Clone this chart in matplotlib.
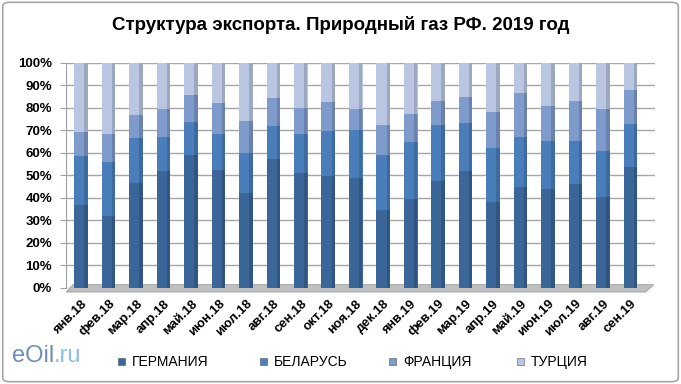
import matplotlib.pyplot as plt
from matplotlib.patches import FancyBboxPatch, Polygon
import matplotlib.transforms as mtransforms
import numpy as np

# Структура экспорта природного газа, доли по странам (накопленные верхушки)
months = ['янв.18', 'фев.18', 'мар.18', 'апр.18', 'май.18', 'июн.18', 'июл.18',
          'авг.18', 'сен.18', 'окт.18', 'ноя.18', 'дек.18', 'янв.19', 'фев.19',
          'мар.19', 'апр.19', 'май.19', 'июн.19', 'июл.19', 'авг.19', 'сен.19']
germany = [36.8, 32.1, 46.7, 51.8, 59.1, 52.5, 42.0, 57.3, 50.9, 49.9, 49.1,
           34.5, 39.6, 47.6, 52.1, 38.2, 44.9, 44.2, 46.1, 40.5, 53.6]
belarus_top = [58.8, 56.1, 66.5, 67.1, 73.7, 68.5, 60.1, 72.2, 68.5, 69.9, 70.2,
               59.2, 65.0, 72.5, 73.2, 62.2, 67.0, 65.5, 65.5, 61.0, 72.9]
france_top = [69.2, 68.5, 76.9, 79.6, 85.6, 82.3, 74.4, 84.4, 80.1, 82.6, 79.5,
              72.5, 77.4, 83.3, 84.8, 78.1, 86.6, 81.1, 83.3, 79.6, 87.8]

germany = np.array(germany)
belarus = np.array(belarus_top) - germany
france = np.array(france_top) - np.array(belarus_top)
turkey = 100 - np.array(france_top)

names = ['ГЕРМАНИЯ', 'БЕЛАРУСЬ', 'ФРАНЦИЯ', 'ТУРЦИЯ']
colors = ['#3b6699', '#4a7ebb', '#7e9bcb', '#b8c6e1']

plt.rcParams['font.family'] = ['Liberation Sans', 'DejaVu Sans']

fig = plt.figure(figsize=(6.81, 3.84), dpi=100)
fig.patches.append(FancyBboxPatch((0.004, 0.006), 0.992, 0.988,
                                  boxstyle='round,pad=0,rounding_size=0.01',
                                  transform=fig.transFigure, fill=False,
                                  edgecolor='#a6a6a6', linewidth=1.2))

ax = fig.add_axes([0.097, 0.25, 0.865, 0.586])
x = np.arange(len(months))
bottom = np.zeros(len(months))
series = [germany, belarus, france, turkey]
for vals, name, col in zip(series, names, colors):
    ax.bar(x, vals, bottom=bottom, width=0.5, color=col, edgecolor='none',
           label=name, zorder=3)
    # тень справа, чтобы бары смотрелись объёмнее
    ax.bar(x + 0.18, vals, bottom=bottom, width=0.12, color='black', alpha=0.15,
           edgecolor='none', zorder=4)
    bottom += vals

# пол диаграммы
floor = Polygon([[-0.55, -1.8], [20.55, -1.8], [20.85, 1.5], [-0.3, 1.5]],
                closed=True, facecolor='#bfbfbf', edgecolor='#a0a0a0',
                linewidth=0.6, zorder=2, clip_on=False)
ax.add_patch(floor)

ax.set_xlim(-0.55, 20.9)
ax.set_ylim(0, 100)
ax.set_yticks(np.arange(0, 101, 10))
ax.set_yticklabels([f'{v}%' for v in range(0, 101, 10)], fontsize=9.5,
                   fontweight='bold')
ax.set_xticks(x)
ax.set_xticklabels(months, rotation=45, ha='right', rotation_mode='anchor',
                   fontsize=9.5, fontweight='bold')
shift = mtransforms.ScaledTranslation(6 / 100, 0, fig.dpi_scale_trans)
for lbl in ax.get_xticklabels():
    lbl.set_transform(lbl.get_transform() + shift)
ax.tick_params(axis='x', length=0, pad=7)
ax.tick_params(axis='y', length=4, color='#a0a0a0', pad=6)
ax.grid(axis='y', color='#a6a6a6', linewidth=1, zorder=0)
for s in ['top', 'right', 'bottom']:
    ax.spines[s].set_visible(False)
ax.spines['left'].set_color('#a0a0a0')

fig.text(0.5, 0.935, 'Структура экспорта. Природный газ РФ. 2019 год',
         ha='center', va='center', fontsize=13.5, fontweight='bold')

# легенда внизу
leg_x = [121, 263, 392, 520]
for hx, name, col in zip(leg_x, names, colors):
    fig.patches.append(plt.Rectangle(((hx - 3) / 681, 1 - 365 / 384), 7 / 681,
                                     7 / 384, transform=fig.transFigure,
                                     facecolor=col, edgecolor='#555555',
                                     linewidth=0.4))
    fig.text((hx + 11) / 681, 1 - 362 / 384, name, fontsize=10, ha='left',
             va='center')

# логотип
logo = fig.text(12 / 681, 1 - 356 / 384, 'eOil', color='#6f8fb5', fontsize=17,
                ha='left', va='center')
ax.annotate('.ru', xy=(1, 0.5), xycoords=logo, ha='left', va='center',
            color='#8cc0e8', fontsize=17, annotation_clip=False)

fig.savefig('out.png', dpi=100)
